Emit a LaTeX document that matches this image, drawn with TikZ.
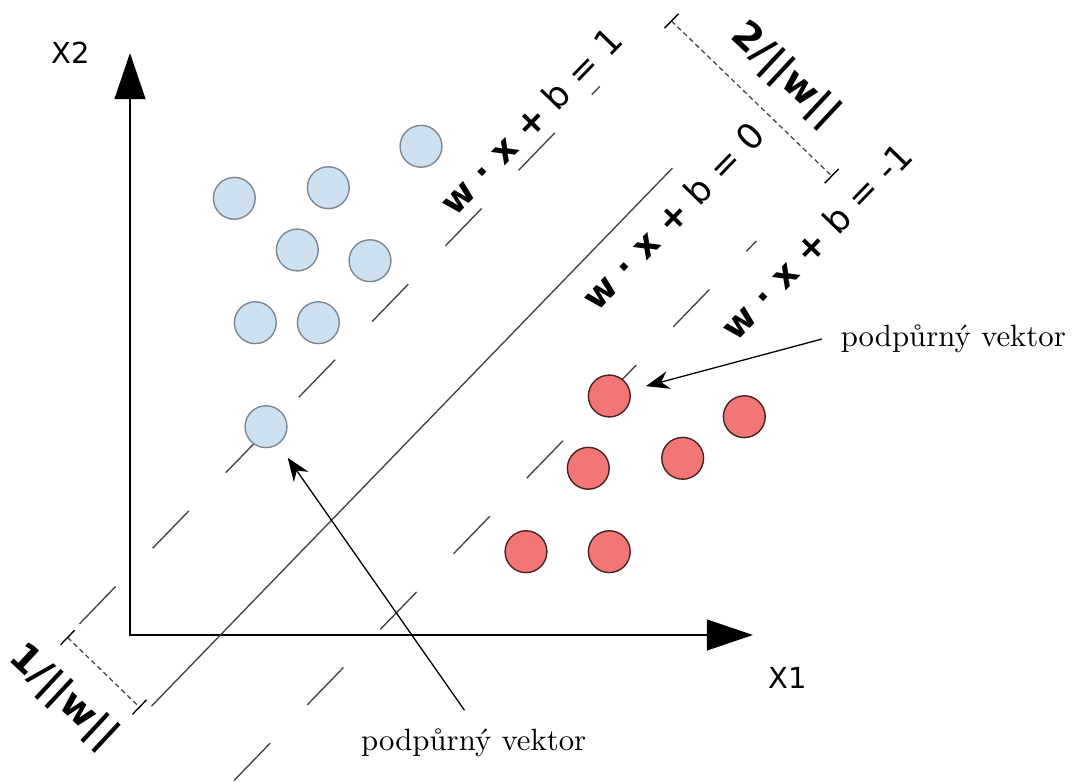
\documentclass[tikz,border=0pt]{standalone}
\usepackage{fontspec}
\newfontfamily\dvs{DejaVu Sans}
\usetikzlibrary{arrows.meta,calc}
\definecolor{bluefill}{RGB}{205,225,240}
\definecolor{blueedge}{RGB}{125,135,145}
\definecolor{redfill}{RGB}{242,118,118}
\definecolor{rededge}{RGB}{70,35,35}
\definecolor{lineg}{RGB}{70,70,70}
\begin{document}
\begin{tikzpicture}[x=0.325pt,y=-0.325pt,
  bluept/.style={circle,draw=blueedge,fill=bluefill,line width=0.45pt,minimum size=13.6pt,inner sep=0pt},
  redpt/.style={circle,draw=rededge,fill=redfill,line width=0.45pt,minimum size=13.6pt,inner sep=0pt},
  axis/.style={line width=0.65pt,{Triangle[length=15pt,width=10pt]}-{Triangle[length=15pt,width=10pt]}},
  margin/.style={draw=lineg,line width=0.45pt,dash pattern=on 16.9pt off 17.3pt},
  hyper/.style={draw=lineg,line width=0.45pt},
  dim/.style={draw=lineg,line width=0.42pt,dash pattern=on 1.6pt off 1.1pt},
  tick/.style={draw=black,line width=0.45pt},
  eq/.style={font=\dvs\fontsize{11.5}{12}\selectfont,rotate=45.9,inner sep=0pt},
  dimlab/.style={font=\dvs\bfseries\fontsize{12.5}{14}\selectfont,rotate=-43,inner sep=0pt},
  axlab/.style={font=\dvs\fontsize{9.4}{10}\selectfont,inner sep=0pt},
  note/.style={font=\fontsize{10}{12}\selectfont,inner sep=5.9pt},
  pointer/.style={line width=0.42pt,-{Stealth[length=7.6pt,width=5.8pt]},shorten >=5.3pt}
]
\useasboundingbox (0,0) rectangle (1075,783);

% axes
\coordinate (O) at (130,635);
\coordinate (Xend) at (753,635);
\coordinate (Yend) at (130,53);
\draw[axis] (Yend) -- (O) -- (Xend);
\node[axlab] (x2) at (71,52.5) {X2};
\node[axlab] (x1) at (788,678) {X1};

% hyperplane and margins
\coordinate (m1a) at (79.41,623.91);
\coordinate (m1b) at (599.72,86.47);
\coordinate (h0a) at (151.47,706.2);
\coordinate (h0b) at (672.47,168.04);
\coordinate (m2a) at (234.0,780.53);
\coordinate (m2b) at (756.4,240.94);
\draw[margin] (m1a) -- (m1b);
\draw[hyper] (h0a) -- (h0b);
\draw[margin] (m2a) -- (m2b);

% equations
\node[eq] (e1) at (531,121) {{\bfseries w · x +} b = 1};
\node[eq] (e0) at (673,216) {{\bfseries w · x +} b = 0};
\node[eq] (em) at (816,241) {{\bfseries w · x +} b = -1};

% dimension 2/||w||
\coordinate (d2a) at (671.5,21);
\coordinate (d2b) at (831.7,176);
\draw[dim] (d2a) -- (d2b);
\draw[tick] ([shift={(-7,7.2)}]d2a) -- ([shift={(7,-7.2)}]d2a);
\draw[tick] ([shift={(-7,7.2)}]d2b) -- ([shift={(7,-7.2)}]d2b);
\node[dimlab] (d2) at (785,75) {2/||w||};

% dimension 1/||w||
\coordinate (d1a) at (67.6,637.5);
\coordinate (d1b) at (139.5,707.1);
\draw[dim] (d1a) -- (d1b);
\draw[tick] ([shift={(-7,7.2)}]d1a) -- ([shift={(7,-7.2)}]d1a);
\draw[tick] ([shift={(-7,7.2)}]d1b) -- ([shift={(7,-7.2)}]d1b);
\node[dimlab] (d1) at (63,697) {1/||w||};

% blue points
\node[bluept] (b1) at (234.3,198.3) {};
\node[bluept] (b2) at (328.3,187.7) {};
\node[bluept] (b3) at (421,146.3) {};
\node[bluept] (b4) at (297.3,250) {};
\node[bluept] (b5) at (370,260.7) {};
\node[bluept] (b6) at (255.3,322.7) {};
\node[bluept] (b7) at (318.3,322.7) {};
\node[bluept] (b8) at (266,426.7) {};

% red points
\node[redpt] (r1) at (609.3,396) {};
\node[redpt] (r2) at (744.3,416.7) {};
\node[redpt] (r3) at (682.7,458.3) {};
\node[redpt] (r4) at (588.3,468.3) {};
\node[redpt] (r5) at (526,551.7) {};
\node[redpt] (r6) at (609.3,551.7) {};

% support vector notes
\node[note,anchor=base west] (labR) at (822,346.7) {podpůrný vektor};
\node[note,anchor=base] (labB) at (473.7,750.7) {podpůrný vektor};
\draw[pointer] (labR.west) -- (r1);
\draw[pointer] ([xshift=-3pt]labB.north) -- (b8);
\end{tikzpicture}
\end{document}
